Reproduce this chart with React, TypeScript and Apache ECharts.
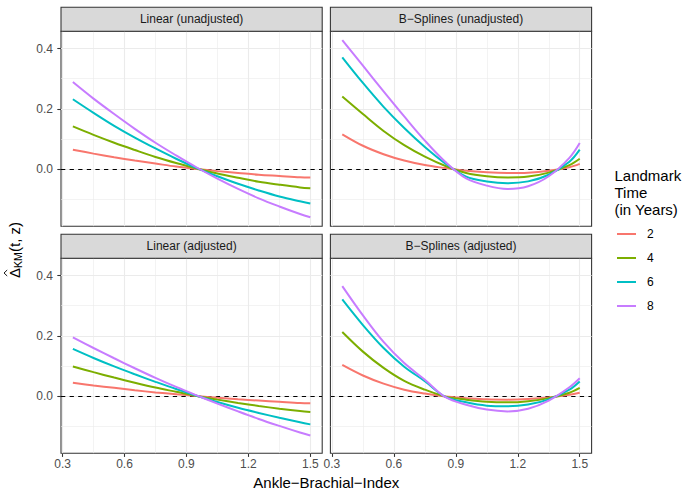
import React, { useEffect, useRef } from "react";
import * as echarts from "echarts";

// ---------- data ----------
const X = [0.35, 0.45, 0.55, 0.65, 0.75, 0.85, 0.95, 1.05, 1.15, 1.25, 1.35, 1.45, 1.5];
const LANDMARKS = ["2", "4", "6", "8"];
const COLORS = ["#F8766D", "#7CAE00", "#00BFC4", "#C77CFF"];
const PANELS = [
  "Linear (unadjusted)",
  "B\u2212Splines (unadjusted)",
  "Linear (adjusted)",
  "B\u2212Splines (adjusted)",
];
const X_TICKS = [0.3, 0.6, 0.9, 1.2, 1.5];
const X_MINOR = [0.45, 0.75, 1.05, 1.35];
const Y_TICKS = [0, 0.2, 0.4];
const Y_MINOR = [-0.1, 0.1, 0.3];

// Linear (unadjusted)
const linUnadj2 = [0.065, 0.052, 0.04, 0.029, 0.019, 0.009, 0.001, -0.006, -0.012, -0.018, -0.022, -0.026, -0.027];
const linUnadj4 = [0.142, 0.114, 0.088, 0.064, 0.041, 0.021, 0.003, -0.014, -0.028, -0.041, -0.051, -0.06, -0.063];
const linUnadj6 = [0.232, 0.187, 0.144, 0.105, 0.069, 0.035, 0.004, -0.023, -0.048, -0.07, -0.09, -0.106, -0.113];
const linUnadj8 = [0.289, 0.234, 0.183, 0.134, 0.088, 0.046, 0.006, -0.031, -0.065, -0.096, -0.123, -0.148, -0.159];

// B-Splines (unadjusted)
const bsUnadj2 = [0.116, 0.078, 0.05, 0.029, 0.014, 0.004, -0.005, -0.01, -0.012, -0.011, -0.005, 0.007, 0.018];
const bsUnadj4 = [0.241, 0.183, 0.127, 0.08, 0.042, 0.011, -0.012, -0.023, -0.027, -0.024, -0.011, 0.014, 0.035];
const bsUnadj6 = [0.371, 0.286, 0.207, 0.137, 0.074, 0.019, -0.024, -0.04, -0.046, -0.04, -0.018, 0.025, 0.065];
const bsUnadj8 = [0.428, 0.343, 0.258, 0.175, 0.095, 0.024, -0.03, -0.054, -0.065, -0.056, -0.023, 0.038, 0.087];

// Linear (adjusted)
const linAdj2 = [0.045, 0.036, 0.028, 0.02, 0.013, 0.007, 0.001, -0.005, -0.01, -0.014, -0.018, -0.022, -0.023];
const linAdj4 = [0.099, 0.08, 0.062, 0.045, 0.029, 0.015, 0.001, -0.011, -0.022, -0.032, -0.041, -0.049, -0.052];
const linAdj6 = [0.157, 0.127, 0.099, 0.073, 0.048, 0.024, 0.002, -0.019, -0.038, -0.055, -0.071, -0.086, -0.093];
const linAdj8 = [0.195, 0.16, 0.126, 0.093, 0.061, 0.031, 0.003, -0.024, -0.05, -0.075, -0.098, -0.12, -0.13];

// B-Splines (adjusted)
const bsAdj2 = [0.104, 0.069, 0.042, 0.022, 0.009, -0.001, -0.006, -0.01, -0.011, -0.009, -0.004, 0.005, 0.012];
const bsAdj4 = [0.213, 0.148, 0.094, 0.051, 0.022, -0.001, -0.011, -0.018, -0.02, -0.016, -0.006, 0.012, 0.028];
const bsAdj6 = [0.321, 0.236, 0.16, 0.098, 0.05, -0.002, -0.02, -0.031, -0.033, -0.027, -0.01, 0.022, 0.049];
const bsAdj8 = [0.365, 0.268, 0.18, 0.11, 0.055, -0.003, -0.028, -0.044, -0.05, -0.041, -0.014, 0.03, 0.06];

const PANEL_DATA = [
  [linUnadj2, linUnadj4, linUnadj6, linUnadj8],
  [bsUnadj2, bsUnadj4, bsUnadj6, bsUnadj8],
  [linAdj2, linAdj4, linAdj6, linAdj8],
  [bsAdj2, bsAdj4, bsAdj6, bsAdj8],
];

// ---------- layout ----------
const FONT = '"Liberation Sans", Arial, Helvetica, sans-serif';
const X_MIN = 0.2925;
const X_MAX = 1.5575;
const Y_MIN = -0.1884;
const Y_MAX = 0.4574;
const GRID_L = [61, 330.4];
const GRID_T = [31.2, 258.2];
const GW = 261.2;
const GH = 195;
const STRIP_H = 24;

export default function App() {
  const ref = useRef<HTMLDivElement>(null);

  useEffect(() => {
    if (!ref.current) return;
    const chart = echarts.init(ref.current, undefined, { renderer: "svg" });

    const grids: any[] = [];
    const xAxes: any[] = [];
    const yAxes: any[] = [];
    const series: any[] = [];
    const graphics: any[] = [];

    for (let p = 0; p < 4; p++) {
      const col = p % 2;
      const row = Math.floor(p / 2);
      const left = GRID_L[col];
      const top = GRID_T[row];
      grids.push({
        left,
        top,
        width: GW,
        height: GH,
        show: true,
        borderColor: "#333333",
        borderWidth: 1.07,
        backgroundColor: "#FFFFFF",
        containLabel: false,
      });
      const isBottom = row === 1;
      const isLeft = col === 0;
      xAxes.push({
        gridIndex: p,
        type: "value",
        min: X_MIN,
        max: X_MAX,
        axisLine: { show: false, onZero: false },
        splitLine: { show: false },
        axisTick: {
          show: isBottom,
          length: 3.7,
          customValues: X_TICKS,
          lineStyle: { color: "#333333", width: 1.07 },
        },
        axisLabel: {
          show: isBottom,
          customValues: X_TICKS,
          formatter: (v: number) => v.toFixed(1),
          color: "#4D4D4D",
          fontSize: 12,
          fontFamily: FONT,
          margin: 5,
        },
      });
      yAxes.push({
        gridIndex: p,
        type: "value",
        min: Y_MIN,
        max: Y_MAX,
        axisLine: { show: false, onZero: false },
        splitLine: { show: false },
        axisTick: {
          show: isLeft,
          length: 3.7,
          customValues: Y_TICKS,
          lineStyle: { color: "#333333", width: 1.07 },
        },
        axisLabel: {
          show: isLeft,
          customValues: Y_TICKS,
          formatter: (v: number) => v.toFixed(1),
          color: "#4D4D4D",
          fontSize: 12,
          fontFamily: FONT,
          margin: 8,
        },
      });

      // grid lines via markLine
      const gridLines: any[] = [];
      X_MINOR.forEach((v) => gridLines.push({ xAxis: v, lineStyle: { color: "#EBEBEB", width: 0.6, type: "solid" } }));
      Y_MINOR.forEach((v) => gridLines.push({ yAxis: v, lineStyle: { color: "#EBEBEB", width: 0.6, type: "solid" } }));
      X_TICKS.forEach((v) => gridLines.push({ xAxis: v, lineStyle: { color: "#EBEBEB", width: 1.1, type: "solid" } }));
      Y_TICKS.forEach((v) => gridLines.push({ yAxis: v, lineStyle: { color: "#EBEBEB", width: 1.1, type: "solid" } }));
      series.push({
        type: "line",
        xAxisIndex: p,
        yAxisIndex: p,
        data: [],
        silent: true,
        z: 1,
        markLine: {
          z: 1,
          silent: true,
          symbol: ["none", "none"],
          label: { show: false },
          emphasis: { disabled: true },
          data: gridLines,
        },
      });
      // dashed zero line
      series.push({
        type: "line",
        xAxisIndex: p,
        yAxisIndex: p,
        data: [],
        silent: true,
        z: 2,
        markLine: {
          z: 2,
          silent: true,
          symbol: ["none", "none"],
          label: { show: false },
          emphasis: { disabled: true },
          data: [{ yAxis: 0, lineStyle: { color: "#000000", width: 1.07, type: [4.3, 4.3] } }],
        },
      });
      // data curves
      PANEL_DATA[p].forEach((vals, k) => {
        series.push({
          name: LANDMARKS[k],
          type: "line",
          xAxisIndex: p,
          yAxisIndex: p,
          data: X.map((x, j) => [x, vals[j]]),
          smooth: 0.35,
          symbol: "none",
          showSymbol: false,
          z: 3,
          lineStyle: { color: COLORS[k], width: 2 },
          itemStyle: { color: COLORS[k] },
          emphasis: { disabled: true },
        });
      });

      // strip
      const stripTop = top - STRIP_H;
      graphics.push({
        type: "rect",
        shape: { x: left, y: stripTop, width: GW, height: STRIP_H },
        style: { fill: "#D9D9D9", stroke: "#333333", lineWidth: 1.07 },
        z: 10,
      });
      graphics.push({
        type: "text",
        x: left + GW / 2,
        y: stripTop + STRIP_H / 2,
        style: {
          text: PANELS[p],
          fill: "#1A1A1A",
          fontSize: 12,
          fontWeight: "normal",
          fontFamily: FONT,
          align: "center",
          verticalAlign: "middle",
          textAlign: "center",
          textVerticalAlign: "middle",
        },
        z: 11,
      });
    }

    // x-axis title
    graphics.push({
      type: "text",
      x: (GRID_L[0] + GRID_L[1] + GW) / 2,
      y: 482,
      style: {
        text: "Ankle\u2212Brachial\u2212Index",
        fill: "#000000",
        fontSize: 15,
        fontWeight: "normal",
        fontFamily: FONT,
        align: "center",
        verticalAlign: "middle",
        textAlign: "center",
        textVerticalAlign: "middle",
      },
    });

    // y-axis title: Delta-hat_KM(t, z), rotated
    const tStyle = (text: string, size: number) => ({
      text,
      fill: "#000000",
      fontSize: size,
      fontWeight: "normal",
      fontFamily: FONT,
      align: "left",
      verticalAlign: "middle",
      textAlign: "left",
      textVerticalAlign: "middle",
    });
    graphics.push({
      type: "group",
      x: 14,
      y: 246,
      rotation: Math.PI / 2,
      children: [
        { type: "text", x: -32, y: 0, style: tStyle("\u0394", 15) },
        {
          type: "polyline",
          shape: { points: [[-30, -6.8], [-27, -10], [-24, -6.8]] },
          style: { stroke: "#000000", lineWidth: 0.9, fill: null },
        },
        { type: "text", x: -22, y: 4, style: tStyle("KM", 10.5) },
        { type: "text", x: -6, y: 0, style: tStyle("(t, z)", 15) },
      ],
    });

    // legend title
    graphics.push({
      type: "text",
      x: 614.5,
      y: 166.5,
      style: {
        text: "Landmark\nTime\n(in Years)",
        fill: "#000000",
        fontSize: 15,
        fontWeight: "normal",
        lineHeight: 17,
        fontFamily: FONT,
        align: "left",
        verticalAlign: "top",
        textAlign: "left",
        textVerticalAlign: "top",
      },
    });

    chart.setOption({
      animation: false,
      backgroundColor: "#FFFFFF",
      grid: grids,
      xAxis: xAxes,
      yAxis: yAxes,
      series,
      legend: {
        data: LANDMARKS,
        orient: "vertical",
        left: 617,
        top: 227,
        icon: "rect",
        itemWidth: 19,
        itemHeight: 2,
        itemGap: 10,
        selectedMode: false,
        padding: 0,
        textStyle: {
          fontSize: 12,
          color: "#000000",
          fontWeight: "normal",
          fontFamily: FONT,
          padding: [0, 0, 0, 6],
          lineHeight: 14,
        },
      },
      graphic: graphics,
    });

    return () => chart.dispose();
  }, []);

  return (
    <div
      ref={ref}
      style={{ position: "absolute", left: 0, top: 0, width: 698, height: 498 }}
    />
  );
}
